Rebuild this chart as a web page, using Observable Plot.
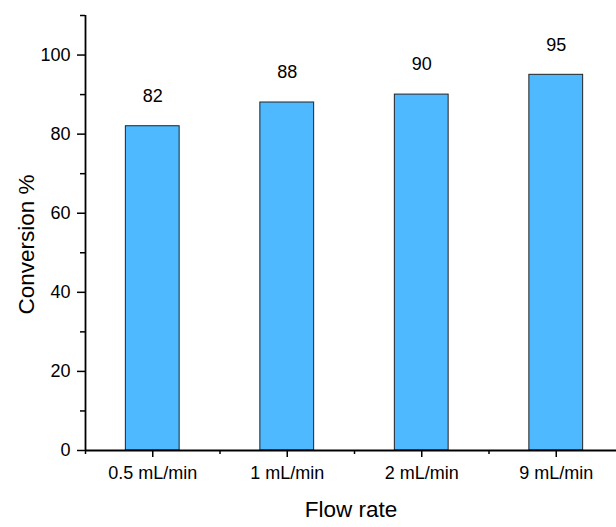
<!DOCTYPE html>
<html>
<head>
<meta charset="utf-8">
<script src="https://cdn.jsdelivr.net/npm/d3@7"></script>
<script src="https://cdn.jsdelivr.net/npm/@observablehq/plot@0.6"></script>
<style>
  html, body { margin: 0; padding: 0; background: #fff; }
  #chart svg { display: block; font-family: "Liberation Sans", Arial, sans-serif; }
</style>
</head>
<body>
<div id="chart"></div>
<script>
const categories = ["0.5 mL/min", "1 mL/min", "2 mL/min", "9 mL/min"];
const conversion = [82, 88, 90, 95];
const yMajorTicks = [0, 20, 40, 60, 80, 100];
const yMinorTicks = [10, 30, 50, 70, 90, 110];
const xTitle = "Flow rate";
const yTitle = "Conversion %";

const data = categories.map((c, i) => ({category: c, index: i, value: conversion[i]}));
const half = 0.2;
const xMajor = categories.map((c, i) => i + 0.5);
const xMinor = d3.range(categories.length + 1);

const font = "Liberation Sans, Arial, sans-serif";

const chart = Plot.plot({
  width: 616,
  height: 527,
  marginLeft: 85,
  marginRight: 0,
  marginTop: 15,
  marginBottom: 77,
  style: {fontFamily: font, color: "#000", background: "#fff"},
  x: {type: "linear", domain: [0, categories.length], range: [85, 623]},
  y: {domain: [0, 110]},
  marks: [
    Plot.rectY(data, {
      x1: d => d.index + 0.5 - half,
      x2: d => d.index + 0.5 + half,
      y1: 0,
      y2: "value",
      fill: "#4EB9FF",
      stroke: "#222",
      strokeWidth: 1
    }),
    Plot.text(data, {
      x: d => d.index + 0.5,
      y: "value",
      text: d => String(d.value),
      dy: -30,
      fontSize: 18,
      fill: "#000"
    }),
    Plot.axisY({ticks: yMajorTicks, tickSize: 8, tickPadding: 7, fontSize: 18, label: null, stroke: "#000", strokeWidth: 1.5}),
    Plot.axisY({ticks: yMinorTicks, tickSize: 5, text: null, label: null, stroke: "#000", strokeWidth: 1.5}),
    Plot.axisX({ticks: xMajor, tickFormat: v => categories[Math.floor(v)], tickSize: 7, tickPadding: 9, fontSize: 18, label: null, stroke: "#000", strokeWidth: 1.5}),
    Plot.axisX({ticks: xMinor, tickFormat: null, text: null, tickSize: 4, label: null, stroke: "#000", strokeWidth: 1.5}),
    Plot.ruleY([0], {stroke: "#000", strokeWidth: 1.8}),
    Plot.ruleX([0], {y1: 0, y2: 110, stroke: "#000", strokeWidth: 1.8}),
    Plot.text([xTitle], {frameAnchor: "bottom", dy: 66, fontSize: 22.5, fill: "#000"}),
    Plot.text([yTitle], {frameAnchor: "left", textAnchor: "middle", dx: -59, dy: 11.5, rotate: -90, fontSize: 22.5, fill: "#000"})
  ]
});

document.getElementById("chart").appendChild(chart);
</script>
</body>
</html>
